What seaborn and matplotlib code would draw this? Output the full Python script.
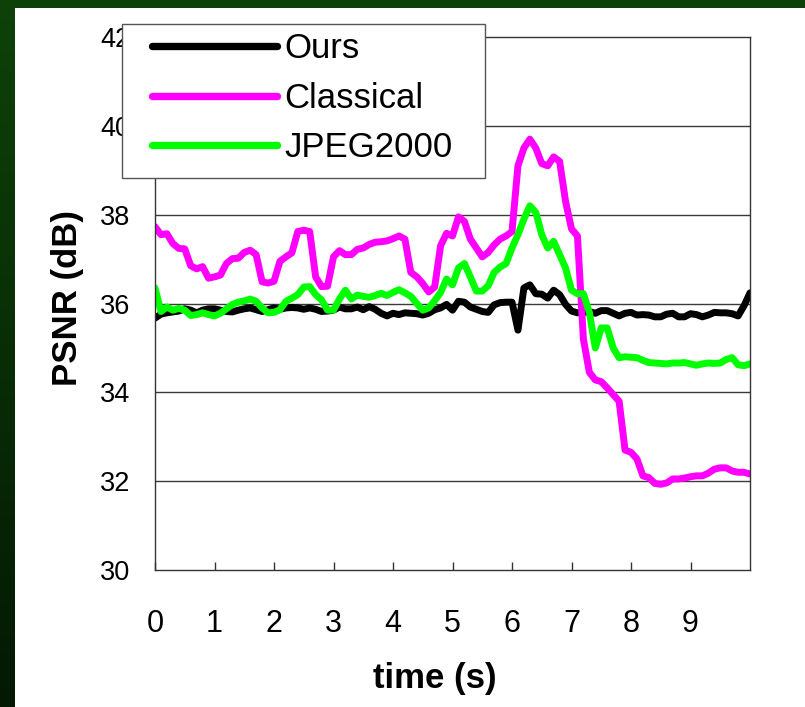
import matplotlib
matplotlib.use("Agg")
import numpy as np
import pandas as pd
import matplotlib.pyplot as plt
from matplotlib.patches import Rectangle
from matplotlib.lines import Line2D
import seaborn as sns

# PSNR per frame (dB), sampled every 0.1 s
ours = [35.67, 35.76, 35.79, 35.81, 35.83, 35.88, 35.85, 35.79, 35.85, 35.88,
        35.88, 35.85, 35.82, 35.81, 35.85, 35.88, 35.90, 35.86, 35.82, 35.86,
        35.90, 35.87, 35.90, 35.91, 35.90, 35.87, 35.90, 35.87, 35.82, 35.83,
        35.85, 35.92, 35.88, 35.88, 35.92, 35.86, 35.93, 35.87, 35.78, 35.72,
        35.78, 35.75, 35.79, 35.78, 35.77, 35.74, 35.78, 35.86, 35.90, 35.98,
        35.85, 36.05, 36.03, 35.92, 35.87, 35.82, 35.80, 35.97, 36.02, 36.03,
        36.03, 35.40, 36.35, 36.42, 36.22, 36.21, 36.12, 36.30, 36.20, 35.98,
        35.83, 35.79, 35.80, 35.82, 35.78, 35.84, 35.84, 35.78, 35.72, 35.78,
        35.80, 35.74, 35.75, 35.74, 35.70, 35.70, 35.76, 35.78, 35.70, 35.70,
        35.77, 35.75, 35.70, 35.74, 35.80, 35.79, 35.79, 35.77, 35.72, 35.95,
        36.24]

classical = [37.73, 37.55, 37.57, 37.35, 37.24, 37.23, 36.85, 36.78, 36.83, 36.57,
             36.60, 36.64, 36.90, 37.01, 37.02, 37.15, 37.20, 37.10, 36.49, 36.46,
             36.50, 36.95, 37.05, 37.14, 37.62, 37.65, 37.62, 36.60, 36.38, 36.39,
             37.05, 37.19, 37.10, 37.10, 37.22, 37.25, 37.33, 37.38, 37.39, 37.41,
             37.46, 37.52, 37.45, 36.70, 36.60, 36.45, 36.26, 36.37, 37.30, 37.58,
             37.52, 37.95, 37.85, 37.45, 37.25, 37.05, 37.15, 37.32, 37.45, 37.52,
             37.62, 39.10, 39.50, 39.70, 39.50, 39.15, 39.10, 39.30, 39.20, 38.30,
             37.68, 37.52, 35.20, 34.45, 34.28, 34.24, 34.10, 33.95, 33.80, 32.70,
             32.65, 32.50, 32.12, 32.08, 31.95, 31.93, 31.96, 32.05, 32.05, 32.07,
             32.10, 32.12, 32.12, 32.18, 32.27, 32.30, 32.30, 32.23, 32.20, 32.20,
             32.16]

jpeg2000 = [36.35, 35.82, 35.92, 35.85, 35.89, 35.85, 35.73, 35.75, 35.79, 35.75,
            35.72, 35.78, 35.88, 35.98, 36.03, 36.06, 36.10, 36.05, 35.90, 35.79,
            35.80, 35.86, 36.05, 36.12, 36.20, 36.37, 36.38, 36.20, 36.08, 35.85,
            35.85, 36.10, 36.30, 36.10, 36.19, 36.16, 36.14, 36.18, 36.23, 36.18,
            36.25, 36.31, 36.24, 36.16, 36.00, 35.85, 35.90, 36.06, 36.25, 36.55,
            36.42, 36.80, 36.90, 36.60, 36.28, 36.28, 36.40, 36.70, 36.82, 36.90,
            37.25, 37.55, 37.90, 38.20, 38.05, 37.55, 37.25, 37.40, 37.10, 36.80,
            36.30, 36.22, 36.22, 35.80, 35.00, 35.45, 35.45, 35.00, 34.78, 34.80,
            34.79, 34.78, 34.72, 34.67, 34.66, 34.65, 34.64, 34.66, 34.66, 34.67,
            34.64, 34.61, 34.64, 34.66, 34.65, 34.66, 34.74, 34.78, 34.62, 34.60,
            34.64]

time_s = [round(0.1 * i, 1) for i in range(len(ours))]

methods = ["Ours", "Classical", "JPEG2000"]
colors = ["#000000", "#FF00FF", "#00FF00"]
y_ticks = [30, 32, 34, 36, 38, 40, 42]
x_ticks = [0, 1, 2, 3, 4, 5, 6, 7, 8, 9]

df = pd.concat([
    pd.DataFrame({"time": time_s, "PSNR": vals, "method": name})
    for name, vals in zip(methods, [ours, classical, jpeg2000])
], ignore_index=True)

sns.set_theme(style="white")
plt.rcParams["font.family"] = ["Liberation Sans", "DejaVu Sans"]
plt.rcParams.update({"text.color": "black", "axes.labelcolor": "black",
                     "xtick.color": "black", "ytick.color": "black"})

W, H = 805, 707
fig = plt.figure(figsize=(W / 100, H / 100), dpi=100)

# dark green slide backdrop with a white panel
bg = fig.add_axes([0, 0, 1, 1], zorder=-10)
grad = np.linspace(0, 1, 256).reshape(-1, 1)
top_c = np.array([0x0e, 0x42, 0x09]) / 255
bot_c = np.array([0x03, 0x19, 0x03]) / 255
img = top_c[None, None, :] * (1 - grad[:, :, None]) + bot_c[None, None, :] * grad[:, :, None]
bg.imshow(img, aspect="auto", extent=[0, 1, 0, 1])
bg.add_patch(Rectangle((15 / W, 0), 1 - 15 / W, 1 - 8 / H, facecolor="white",
                       edgecolor="none"))
bg.set_xlim(0, 1)
bg.set_ylim(0, 1)
bg.axis("off")

ax = fig.add_axes([155 / W, 1 - 570 / H, 595 / W, 533 / H])
ax.set_facecolor("white")

LW = 5.0
sns.lineplot(data=df, x="time", y="PSNR", hue="method", hue_order=methods,
             palette=colors, linewidth=LW, ax=ax, legend=False)

ax.set_xlim(0, 10)
ax.set_ylim(30, 42)
ax.set_yticks(y_ticks)
ax.set_yticklabels([str(v) for v in y_ticks], fontsize=19.5)
ax.set_xticks(x_ticks)
ax.set_xticklabels([str(v) for v in x_ticks], fontsize=22)
ax.tick_params(axis="x", direction="in", length=6, width=1, color="#333333",
               pad=28, labelcolor="black")
ax.tick_params(axis="x", which="major", bottom=True)
ax.tick_params(axis="y", length=0, pad=18, labelcolor="black")

for yv in y_ticks[1:-1]:
    ax.axhline(yv, color="#3a3a3a", linewidth=1.0, zorder=0.5)
for side in ["left", "bottom", "top", "right"]:
    ax.spines[side].set_visible(True)
    ax.spines[side].set_color("#333333")
    ax.spines[side].set_linewidth(1.0)

ax.set_xlabel("time (s)", fontsize=25, fontweight="bold", color="black")
ax.set_ylabel("PSNR (dB)", fontsize=25, fontweight="bold", color="black")
ax.xaxis.set_label_coords(0.47, -0.172)
ax.yaxis.set_label_coords(-0.12, 0.51)

# legend box drawn over the axis labels
frame = Rectangle((122 / W, 1 - 178 / H), (485 - 122) / W, (178 - 24) / H,
                  transform=fig.transFigure, facecolor="white",
                  edgecolor="#555555", linewidth=1.0, zorder=10)
fig.add_artist(frame)

handles = [Line2D([], [], color=c, linewidth=LW + 0.3) for c in colors]
leg = fig.legend(handles, methods, loc="upper left",
                 bbox_to_anchor=(152 / W, 1 - 32 / H),
                 frameon=False, fontsize=25, handlelength=3.6,
                 handletextpad=0.2, borderpad=0, labelspacing=0.48,
                 borderaxespad=0, labelcolor="black")
leg.set_zorder(11)

fig.savefig("out.png", dpi=100)
